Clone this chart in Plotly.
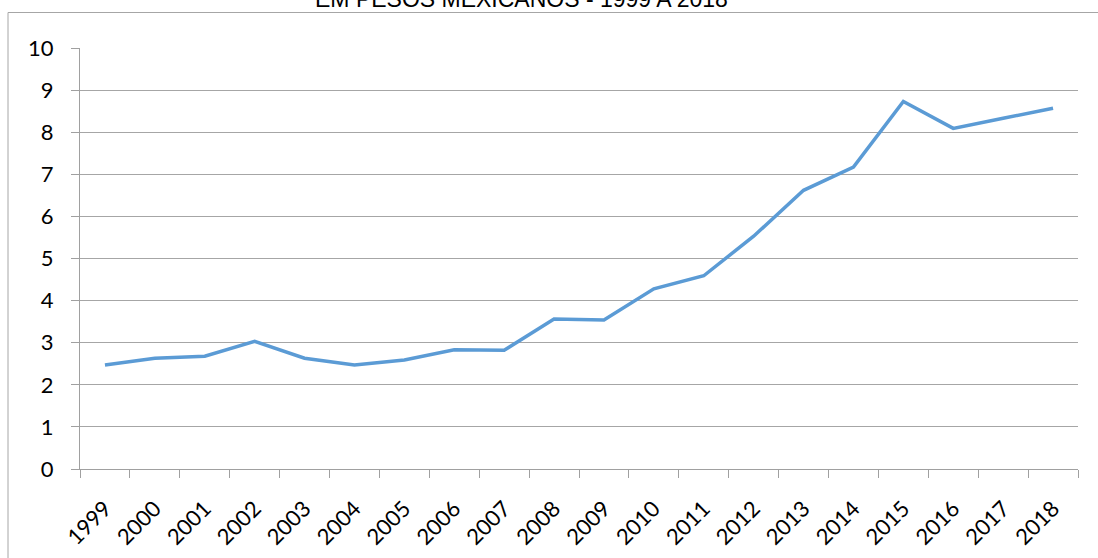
import plotly.graph_objects as go

years = [str(y) for y in range(1999, 2019)]
values = [2.47, 2.63, 2.68, 3.03, 2.63, 2.47, 2.59, 2.83, 2.82, 3.56,
          3.54, 4.28, 4.59, 5.53, 6.62, 7.17, 8.73, 8.09, 8.33, 8.57]
title_text = "EM PESOS MEXICANOS - 1999 A 2018"

W, H = 1098, 558
L, R, T, B = 80, 20, 48, 89
pw, ph = W - L - R, H - T - B

def px_x(x):
    return (x - L) / pw

def px_y(y):
    return (H - B - y) / ph

fig = go.Figure()
fig.add_trace(go.Scatter(x=years, y=values, mode="lines",
                         line=dict(color="#5b9bd5", width=3.5),
                         hoverinfo="x+y"))

fig.update_layout(
    width=W, height=H,
    margin=dict(l=L, r=R, t=T, b=B),
    paper_bgcolor="white", plot_bgcolor="white",
    showlegend=False,
    font=dict(family="Lato, Calibri, sans-serif", size=22, color="black"),
)
fig.update_xaxes(
    type="category", tickangle=-45, range=[-0.5, len(years) - 0.5],
    ticks="outside", tickson="boundaries", ticklen=8, tickcolor="#a0a0a0",
    showline=True, linecolor="#a0a0a0", linewidth=1,
    showgrid=False, ticklabelstandoff=17, automargin=False,
    tickfont=dict(family="Lato, Calibri, sans-serif", size=22, color="black"),
)
fig.update_yaxes(
    range=[0, 10], dtick=1,
    ticks="outside", ticklen=8, tickcolor="#a0a0a0",
    showline=True, linecolor="#a0a0a0", linewidth=1,
    showgrid=True, gridcolor="#a6a6a6", gridwidth=1,
    zeroline=False, ticklabelstandoff=13, automargin=False,
    tickfont=dict(family="Lato, Calibri, sans-serif", size=22, color="black"),
)

fig.add_shape(type="rect", xref="paper", yref="paper",
              x0=px_x(8), x1=px_x(1110), y0=px_y(570), y1=px_y(12.5),
              line=dict(color="#a6a6a6", width=1), fillcolor="rgba(0,0,0,0)",
              layer="below")

fig.add_annotation(text=title_text, xref="paper", yref="paper",
                   x=px_x(521), y=px_y(-1), xanchor="center", yanchor="middle",
                   showarrow=False,
                   font=dict(family="Liberation Sans, Arial, sans-serif", size=23, color="black"))

fig.write_html("out.html")
